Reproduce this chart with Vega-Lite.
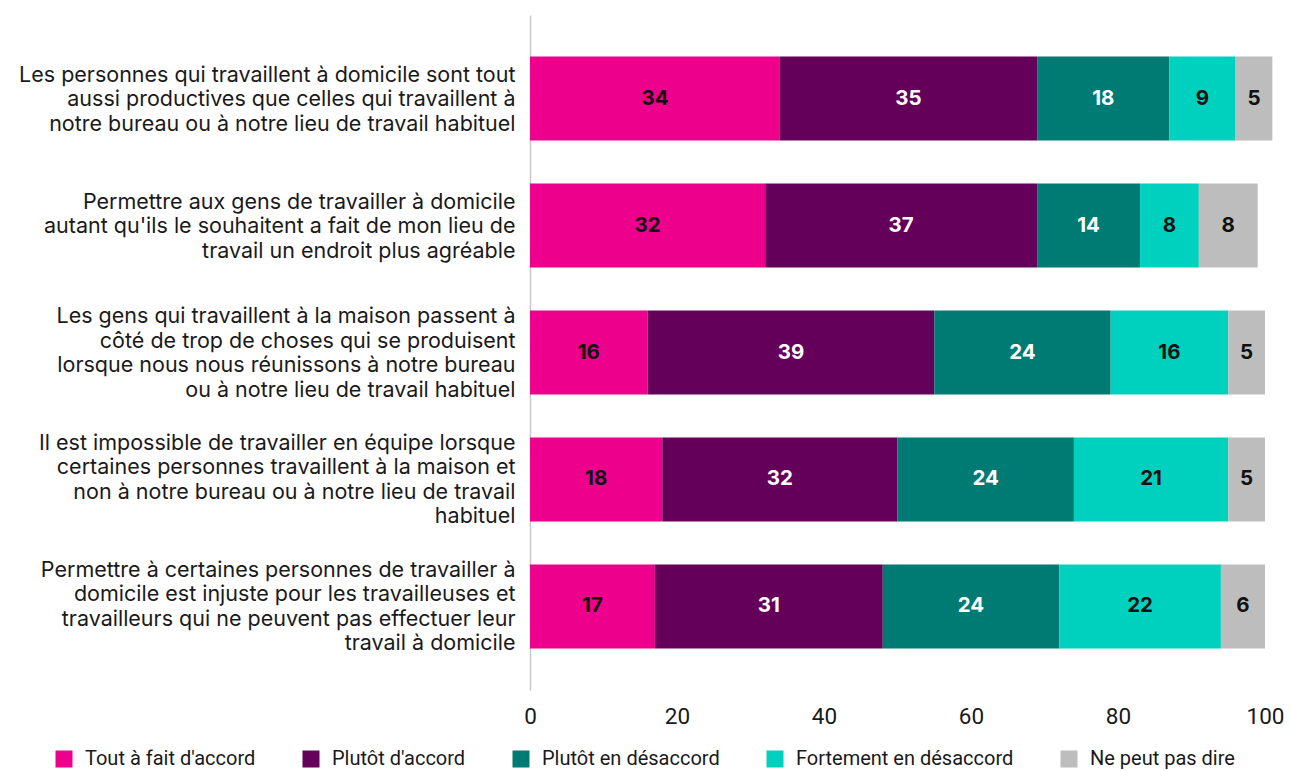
{
  "$schema": "https://vega.github.io/schema/vega-lite/v6.json",
  "autosize": {"type": "none"},
  "padding": {"left": 530, "top": 15, "right": 26, "bottom": 81},
  "width": 735,
  "height": 675,
  "background": "white",
  "config": {"view": {"stroke": null}},
  "data": {"values": [
    {"q": "Les personnes qui travaillent à domicile sont tout|aussi productives que celles qui travaillent à|notre bureau ou à notre lieu de travail habituel", "cat": "Tout à fait d'accord", "k": 1, "v": 34},
    {"q": "Les personnes qui travaillent à domicile sont tout|aussi productives que celles qui travaillent à|notre bureau ou à notre lieu de travail habituel", "cat": "Plutôt d'accord", "k": 2, "v": 35},
    {"q": "Les personnes qui travaillent à domicile sont tout|aussi productives que celles qui travaillent à|notre bureau ou à notre lieu de travail habituel", "cat": "Plutôt en désaccord", "k": 3, "v": 18},
    {"q": "Les personnes qui travaillent à domicile sont tout|aussi productives que celles qui travaillent à|notre bureau ou à notre lieu de travail habituel", "cat": "Fortement en désaccord", "k": 4, "v": 9},
    {"q": "Les personnes qui travaillent à domicile sont tout|aussi productives que celles qui travaillent à|notre bureau ou à notre lieu de travail habituel", "cat": "Ne peut pas dire", "k": 5, "v": 5},
    {"q": "Permettre aux gens de travailler à domicile|autant qu'ils le souhaitent a fait de mon lieu de|travail un endroit plus agréable", "cat": "Tout à fait d'accord", "k": 1, "v": 32},
    {"q": "Permettre aux gens de travailler à domicile|autant qu'ils le souhaitent a fait de mon lieu de|travail un endroit plus agréable", "cat": "Plutôt d'accord", "k": 2, "v": 37},
    {"q": "Permettre aux gens de travailler à domicile|autant qu'ils le souhaitent a fait de mon lieu de|travail un endroit plus agréable", "cat": "Plutôt en désaccord", "k": 3, "v": 14},
    {"q": "Permettre aux gens de travailler à domicile|autant qu'ils le souhaitent a fait de mon lieu de|travail un endroit plus agréable", "cat": "Fortement en désaccord", "k": 4, "v": 8},
    {"q": "Permettre aux gens de travailler à domicile|autant qu'ils le souhaitent a fait de mon lieu de|travail un endroit plus agréable", "cat": "Ne peut pas dire", "k": 5, "v": 8},
    {"q": "Les gens qui travaillent à la maison passent à|côté de trop de choses qui se produisent|lorsque nous nous réunissons à notre bureau|ou à notre lieu de travail habituel", "cat": "Tout à fait d'accord", "k": 1, "v": 16},
    {"q": "Les gens qui travaillent à la maison passent à|côté de trop de choses qui se produisent|lorsque nous nous réunissons à notre bureau|ou à notre lieu de travail habituel", "cat": "Plutôt d'accord", "k": 2, "v": 39},
    {"q": "Les gens qui travaillent à la maison passent à|côté de trop de choses qui se produisent|lorsque nous nous réunissons à notre bureau|ou à notre lieu de travail habituel", "cat": "Plutôt en désaccord", "k": 3, "v": 24},
    {"q": "Les gens qui travaillent à la maison passent à|côté de trop de choses qui se produisent|lorsque nous nous réunissons à notre bureau|ou à notre lieu de travail habituel", "cat": "Fortement en désaccord", "k": 4, "v": 16},
    {"q": "Les gens qui travaillent à la maison passent à|côté de trop de choses qui se produisent|lorsque nous nous réunissons à notre bureau|ou à notre lieu de travail habituel", "cat": "Ne peut pas dire", "k": 5, "v": 5},
    {"q": "Il est impossible de travailler en équipe lorsque|certaines personnes travaillent à la maison et|non à notre bureau ou à notre lieu de travail|habituel", "cat": "Tout à fait d'accord", "k": 1, "v": 18},
    {"q": "Il est impossible de travailler en équipe lorsque|certaines personnes travaillent à la maison et|non à notre bureau ou à notre lieu de travail|habituel", "cat": "Plutôt d'accord", "k": 2, "v": 32},
    {"q": "Il est impossible de travailler en équipe lorsque|certaines personnes travaillent à la maison et|non à notre bureau ou à notre lieu de travail|habituel", "cat": "Plutôt en désaccord", "k": 3, "v": 24},
    {"q": "Il est impossible de travailler en équipe lorsque|certaines personnes travaillent à la maison et|non à notre bureau ou à notre lieu de travail|habituel", "cat": "Fortement en désaccord", "k": 4, "v": 21},
    {"q": "Il est impossible de travailler en équipe lorsque|certaines personnes travaillent à la maison et|non à notre bureau ou à notre lieu de travail|habituel", "cat": "Ne peut pas dire", "k": 5, "v": 5},
    {"q": "Permettre à certaines personnes de travailler à|domicile est injuste pour les travailleuses et|travailleurs qui ne peuvent pas effectuer leur|travail à domicile", "cat": "Tout à fait d'accord", "k": 1, "v": 17},
    {"q": "Permettre à certaines personnes de travailler à|domicile est injuste pour les travailleuses et|travailleurs qui ne peuvent pas effectuer leur|travail à domicile", "cat": "Plutôt d'accord", "k": 2, "v": 31},
    {"q": "Permettre à certaines personnes de travailler à|domicile est injuste pour les travailleuses et|travailleurs qui ne peuvent pas effectuer leur|travail à domicile", "cat": "Plutôt en désaccord", "k": 3, "v": 24},
    {"q": "Permettre à certaines personnes de travailler à|domicile est injuste pour les travailleuses et|travailleurs qui ne peuvent pas effectuer leur|travail à domicile", "cat": "Fortement en désaccord", "k": 4, "v": 22},
    {"q": "Permettre à certaines personnes de travailler à|domicile est injuste pour les travailleuses et|travailleurs qui ne peuvent pas effectuer leur|travail à domicile", "cat": "Ne peut pas dire", "k": 5, "v": 6}
  ]},
  "encoding": {
    "y": {
      "field": "q", "type": "nominal", "sort": null,
      "scale": {"paddingInner": 0.338, "paddingOuter": 0.327},
      "axis": {
        "title": null, "ticks": false, "domain": true, "domainColor": "#c8c8c8", "domainWidth": 1.5,
        "labelExpr": "split(datum.label, '|')",
        "labelFont": "Inter", "labelFontSize": 21.5, "labelColor": "#1a1a1a", "labelLineHeight": 24.5,
        "labelPadding": 15, "labelLimit": 0, "labelAlign": "right", "labelBaseline": "middle",
        "labelOffset": {"condition": {"test": "length(split(datum.value, '|')) == 4", "value": -35.5}, "value": -23}
      }
    },
    "x": {
      "field": "v", "type": "quantitative", "stack": "zero",
      "scale": {"domain": [0, 100], "nice": false},
      "axis": {
        "title": null, "values": [0, 20, 40, 60, 80, 100], "ticks": false, "tickSize": 0, "domain": false, "grid": false,
        "labelFlush": false,
        "labelFont": "Roboto", "labelFontSize": 22.5, "labelColor": "#1a1a1a", "labelPadding": 15
      }
    },
    "order": {"field": "k", "type": "quantitative"}
  },
  "layer": [
    {
      "mark": {"type": "bar"},
      "encoding": {
        "color": {
          "field": "cat", "type": "nominal",
          "scale": {
            "domain": ["Tout à fait d'accord", "Plutôt d'accord", "Plutôt en désaccord", "Fortement en désaccord", "Ne peut pas dire"],
            "range": ["#EC008C", "#65005A", "#007B73", "#00D1BE", "#BDBDBD"]
          },
          "legend": {
            "title": null, "orient": "none", "direction": "horizontal", "legendX": -476, "legendY": 734,
            "symbolType": "square", "symbolSize": 289, "symbolStrokeWidth": 0, "symbolOpacity": 1,
            "labelFont": "Roboto", "labelFontSize": 20, "labelColor": "#1a1a1a", "labelOffset": 11,
            "columnPadding": 45, "labelLimit": 0
          }
        }
      }
    },
    {
      "mark": {"type": "text", "font": "Inter", "fontSize": 20.5, "fontWeight": "bold", "align": "center", "baseline": "middle"},
      "encoding": {
        "x": {"field": "v", "type": "quantitative", "stack": "zero", "bandPosition": 0.5},
        "text": {"field": "v", "type": "quantitative"},
        "color": {"condition": {"test": "datum.k == 2 || datum.k == 3", "value": "white"}, "value": "#111111"}
      }
    }
  ]
}
